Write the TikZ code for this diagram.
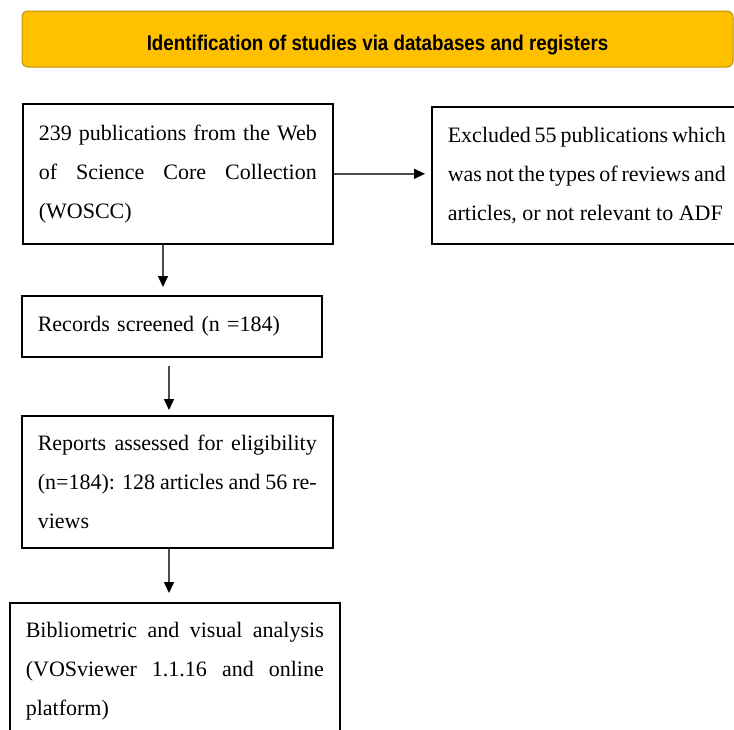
\documentclass[tikz,border=0pt]{standalone}
\usepackage{fontspec}
\setmainfont{Liberation Serif}
\newfontfamily\cabfont{Liberation Sans}
\usepackage{tikz}
\usetikzlibrary{
    positioning,
    arrows.meta
}
\definecolor{oro}{HTML}{FFC000}
\definecolor{orobord}{HTML}{BF9000}
\tikzset{
    >=Stealth,
    caja/.style={
        draw,
        line width=1.6pt,
        anchor=north west,
        inner xsep=16pt,
        inner ysep=0pt,
        align=justify,
        font=\fontsize{22}{39}\selectfont
    },
    flecha/.style={
        ->,
        line width=1.4pt,
        draw=black!70,
        >={Triangle[length=11pt,width=10pt,color=black]}
    }
}

\begin{document}
\begin{tikzpicture}[
    x=1pt,
    y=-1pt
]

    \useasboundingbox (0,0) rectangle (734,729);

    % Cabecera
    \node[
        draw=orobord,
        fill=oro,
        line width=1pt,
        rounded corners=6pt,
        minimum width=711pt,
        minimum height=56pt,
        text height=22pt,
        text depth=0pt,
        font=\cabfont\bfseries\fontsize{21.3}{24}\selectfont
    ] (titulo) at (377.5,39) {\scalebox{0.88}[1]{Identification of studies via databases and registers}};

    % Cajas
    \node[caja, text width=278pt, minimum height=140pt] (wos) at (22,103)
        {239 publications from the Web\linebreak of Science Core Collection\linebreak (WOSCC)};
    \node[caja, text width=278pt, minimum height=137pt] (excl) at (431,106)
        {Excluded 55 publications which\linebreak was not the types of reviews and\linebreak articles, or not relevant to ADF};
    \node[caja, text width=268pt, minimum height=61pt, align=left] (cribado) at (21,295)
        {Records screened (n =184)};
    \node[caja, text width=279pt, minimum height=132pt] (informes) at (21,415)
        {Reports assessed for eligibility\linebreak (n=184): 128 articles and 56 re-\linebreak views};
    \node[caja, text width=298pt, minimum height=136pt] (analisis) at (9,602)
        {Bibliometric and visual analysis\linebreak (VOSviewer 1.1.16 and online\linebreak platform)};

    % Ejes de las flechas
    \coordinate (ejeA) at (163,0);
    \coordinate (ejeB) at (169,0);

    % Flechas
    \draw[flecha, shorten >=6pt]
        (wos.east) -- (wos.east -| excl.west);
    \draw[flecha, shorten >=8pt]
        (wos.south -| ejeA) -- (cribado.north -| ejeA);
    \draw[flecha, shorten <=8pt, shorten >=5pt]
        (cribado.south -| ejeB) -- (informes.north -| ejeB);
    \draw[flecha, shorten >=9pt]
        (informes.south -| ejeB) -- (analisis.north -| ejeB);

\end{tikzpicture}
\end{document}
